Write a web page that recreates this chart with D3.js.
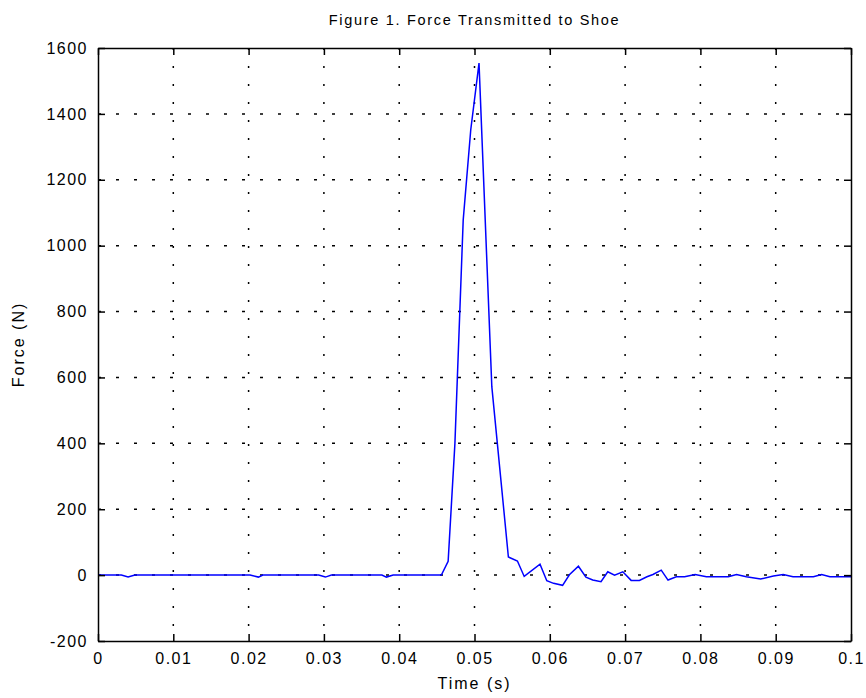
<!DOCTYPE html>
<html>
<head>
<meta charset="utf-8">
<script src="https://cdn.jsdelivr.net/npm/d3@7"></script>
<style>
  body { margin: 0; background: #fff; }
  text { font-family: "Liberation Sans", Arial, sans-serif; fill: #000; }
</style>
</head>
<body>
<div id="chart"></div>
<script>
  // force samples (time in s, force in N)
  var time = [0, 0.0031, 0.0040, 0.0049, 0.0202, 0.0213, 0.0219, 0.0293, 0.0302, 0.0310,
              0.0377, 0.0383, 0.0392, 0.0456, 0.0465, 0.0474, 0.0485, 0.0495, 0.0506, 0.0523,
              0.0545, 0.0557, 0.0566, 0.0587, 0.0596, 0.0605, 0.0617, 0.0626, 0.0638, 0.0648,
              0.0657, 0.0668, 0.0677, 0.0686, 0.0697, 0.0708, 0.0719, 0.0729, 0.0737, 0.0748,
              0.0757, 0.0768, 0.0779, 0.0793, 0.0808, 0.0837, 0.0848, 0.0861, 0.0880, 0.0897,
              0.0910, 0.0923, 0.0950, 0.0961, 0.0972, 0.1];
  var force = [0, 0, -6, 0, 0, -6, 0, 0, -6, 0,
               0, -6, 0, 0, 42, 400, 1078, 1351, 1554, 572,
               55, 43, -4, 33, -17, -25, -31, 1, 27, -6,
               -15, -20, 10, 0, 10, -16, -16, -5, 2, 15,
               -15, -5, -5, 2, -5, -5, 2, -5, -12, -3,
               2, -5, -5, 2, -5, -5];

  var xTicks = [0, 0.01, 0.02, 0.03, 0.04, 0.05, 0.06, 0.07, 0.08, 0.09, 0.1];
  var yTicks = [-200, 0, 200, 400, 600, 800, 1000, 1200, 1400, 1600];

  var W = 866, H = 698;
  var margin = {top: 48, right: 15, bottom: 57, left: 98},
      width = W - margin.left - margin.right,
      height = H - margin.top - margin.bottom;

  var x = d3.scaleLinear().domain([0, 0.1]).range([0, width]);
  var y = d3.scaleLinear().domain([-200, 1600]).range([height, 0]);

  var svg = d3.select("#chart").append("svg")
      .attr("width", W)
      .attr("height", H);

  var g = svg.append("g")
      .attr("transform", "translate(" + margin.left + "," + margin.top + ")");

  // dotted grid
  g.selectAll(".vgrid").data(xTicks.slice(1, -1)).enter().append("line")
      .attr("x1", d => x(d)).attr("x2", d => x(d))
      .attr("y1", 0).attr("y2", height)
      .attr("stroke", "#000").attr("stroke-width", 1.5)
      .attr("stroke-dasharray", "2,16");
  g.selectAll(".hgrid").data(yTicks.slice(1, -1)).enter().append("line")
      .attr("y1", d => y(d)).attr("y2", d => y(d))
      .attr("x1", 0).attr("x2", width)
      .attr("stroke", "#000").attr("stroke-width", 1.5)
      .attr("stroke-dasharray", "3,15");

  // data line
  var line = d3.line()
      .x((d, i) => x(time[i]))
      .y(d => y(d));

  g.append("path")
      .datum(force)
      .attr("fill", "none")
      .attr("stroke", "#0000ff")
      .attr("stroke-width", 1.5)
      .attr("d", line);

  // axes, MATLAB style: ticks inside on all four sides
  var fmt = d => String(d);
  var tickLen = 7;

  var axB = g.append("g").attr("transform", "translate(0," + height + ")")
      .call(d3.axisBottom(x).tickValues(xTicks).tickFormat(fmt).tickSizeInner(-tickLen).tickSizeOuter(0).tickPadding(12));
  var axT = g.append("g")
      .call(d3.axisTop(x).tickValues(xTicks).tickFormat("").tickSizeInner(-tickLen).tickSizeOuter(0));
  var axL = g.append("g")
      .call(d3.axisLeft(y).tickValues(yTicks).tickFormat(fmt).tickSizeInner(-tickLen).tickSizeOuter(0).tickPadding(10));
  var axR = g.append("g").attr("transform", "translate(" + width + ",0)")
      .call(d3.axisRight(y).tickValues(yTicks).tickFormat("").tickSizeInner(-tickLen).tickSizeOuter(0));

  [axB, axT, axL, axR].forEach(a => {
    a.select(".domain").attr("stroke", "#000").attr("stroke-width", 1.5);
    a.selectAll(".tick line").attr("stroke", "#000").attr("stroke-width", 1.5);
    a.selectAll("text").style("font-size", "16px").style("letter-spacing", "1.5px")
        .style("font-family", "'Liberation Sans', Arial, sans-serif");
  });

  // titles
  svg.append("text")
      .attr("x", margin.left + width / 2)
      .attr("y", 25)
      .attr("text-anchor", "middle")
      .style("font-size", "14.5px")
      .style("letter-spacing", "1.7px")
      .text("Figure 1. Force Transmitted to Shoe");

  svg.append("text")
      .attr("x", margin.left + width / 2)
      .attr("y", 689)
      .attr("text-anchor", "middle")
      .style("font-size", "16px")
      .style("letter-spacing", "2px")
      .text("Time (s)");

  svg.append("text")
      .attr("transform", "translate(24," + (margin.top + height / 2) + ") rotate(-90)")
      .attr("text-anchor", "middle")
      .style("font-size", "16px")
      .style("letter-spacing", "2px")
      .text("Force (N)");
</script>
</body>
</html>
